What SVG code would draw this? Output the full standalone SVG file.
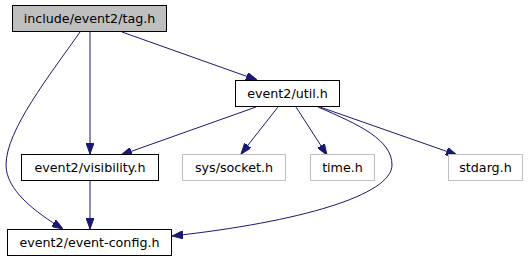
<svg xmlns="http://www.w3.org/2000/svg" width="529" height="261" viewBox="0 0 529 261">
<style>
.n{fill:#fff;stroke:#000;stroke-width:1}
.root{fill:#bfbfbf;stroke:#000;stroke-width:1}
.ext{fill:#fff;stroke:#bfbfbf;stroke-width:1}
text{font-family:"DejaVu Sans",sans-serif;font-size:12.7px;fill:#000;text-anchor:middle}
.e{fill:none;stroke:#191970;stroke-width:1}
</style>
<defs>
<marker id="a" viewBox="0 0 11 8" refX="11" refY="4" markerWidth="11" markerHeight="8" markerUnits="userSpaceOnUse" orient="auto">
<path d="M0,0 L11,4 L0,8 Z" fill="#191970" stroke="#191970"/>
</marker>
</defs>
<rect width="529" height="261" fill="#fff"/>
<g id="edges">
<path class="e" marker-end="url(#a)" d="M80,32 C50,75 6,130 6,165 C6,190 35,212 63,229"/>
<path class="e" marker-end="url(#a)" d="M90,32 L90,154"/>
<path class="e" marker-end="url(#a)" d="M122,32 L257,80"/>
<path class="e" marker-end="url(#a)" d="M256,107 L121,155"/>
<path class="e" marker-end="url(#a)" d="M278,107 L241,154"/>
<path class="e" marker-end="url(#a)" d="M296,107 L327,155"/>
<path class="e" marker-end="url(#a)" d="M320,107 L457,155"/>
<path class="e" marker-end="url(#a)" d="M318,107 C360,125 392,140 392,165 C392,195 300,222 172,236"/>
<path class="e" marker-end="url(#a)" d="M90,181 L90,229"/>
</g>
<g id="node-tag"><rect class="root" x="12.5" y="5.5" width="154" height="26"/><text x="89.5" y="22.5">include/event2/tag.h</text></g>
<g id="node-util"><rect class="n" x="235.5" y="80.5" width="104" height="26"/><text x="287.5" y="97.5">event2/util.h</text></g>
<g id="node-visibility"><rect class="n" x="21.5" y="154.5" width="137" height="26"/><text x="90" y="171.5">event2/visibility.h</text></g>
<g id="node-socket"><rect class="ext" x="182.5" y="154.5" width="103" height="26"/><text x="234" y="171.5">sys/socket.h</text></g>
<g id="node-time"><rect class="ext" x="310.5" y="154.5" width="64" height="26"/><text x="342.5" y="171.5">time.h</text></g>
<g id="node-stdarg"><rect class="ext" x="448.5" y="154.5" width="74" height="26"/><text x="485.5" y="171.5">stdarg.h</text></g>
<g id="node-config"><rect class="n" x="7.5" y="229.5" width="164" height="26"/><text x="89.5" y="246.5">event2/event-config.h</text></g>
</svg>
